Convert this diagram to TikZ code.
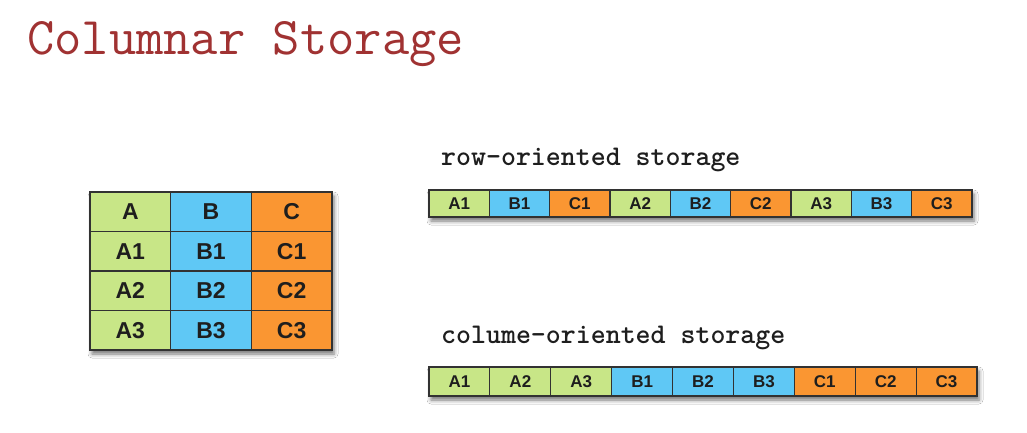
\documentclass[tikz,border=0pt]{standalone}
\usepackage{fontspec}
\setmainfont{Liberation Sans}
\usetikzlibrary{shadows.blur}
\definecolor{cgreen}{RGB}{200,230,135}
\definecolor{cblue}{RGB}{95,200,245}
\definecolor{corange}{RGB}{250,150,50}
\definecolor{cborder}{RGB}{50,50,50}
\definecolor{ctitle}{RGB}{160,50,50}
\definecolor{ctext}{RGB}{30,30,30}
\begin{document}
\begin{tikzpicture}[x=1pt,y=-1pt,
  tcell/.style={draw=cborder, line width=1.3pt, minimum width=80.6pt, minimum height=39.5pt, inner sep=0pt,
    font=\fontsize{23}{23}\selectfont\bfseries, text=ctext},
  rcell/.style={draw=cborder, line width=1.2pt, minimum width=60.33pt, minimum height=27pt, inner sep=0pt,
    font=\fontsize{17}{17}\selectfont\bfseries, text=ctext},
  ccell/.style={draw=cborder, line width=1.2pt, minimum width=60.9pt, minimum height=29pt, inner sep=0pt,
    font=\fontsize{17}{17}\selectfont\bfseries, text=ctext},
  shad/.style={fill=white, blur shadow={shadow xshift=2pt, shadow yshift=-4pt, shadow blur radius=4pt, shadow opacity=55}},
  label/.style={anchor=base west, inner sep=0pt, font=\ttfamily\fontsize{28.5}{28.5}\selectfont\bfseries, text=ctext}
]
\useasboundingbox (0,0) rectangle (1027,433);
\fill[white] (0,0) rectangle (1027,433);

% title
\node[anchor=base west, inner sep=0pt, font=\ttfamily\fontsize{53}{53}\selectfont, text=ctitle] (title) at (27,55) {Columnar Storage};

% table
\fill[shad] (90,192) rectangle (332,350);
\foreach \h/\c [count=\i] in {A/cgreen,B/cblue,C/corange}{
  \node[tcell, fill=\c] (h\h) at ({90+80.67*(\i-0.5)},{192+39.5*0.5}) {\h};
  \foreach \j in {1,2,3}{
    \node[tcell, fill=\c] (t\h\j) at ({90+80.67*(\i-0.5)},{192+39.5*(\j+0.5)}) {\h\j};
  }
}

% row-oriented
\node[label] (rowlab) at (441,165) {row-oriented storage};
\fill[shad] (429,190) rectangle (972,217);
\foreach \t/\c [count=\i] in {A1/cgreen,B1/cblue,C1/corange,A2/cgreen,B2/cblue,C2/corange,A3/cgreen,B3/cblue,C3/corange}{
  \node[rcell, fill=\c] (r\i) at ({429+60.33*(\i-0.5)},203.5) {\t};
}

% column-oriented
\node[label] (collab) at (441,343) {colume-oriented storage};
\fill[shad] (429,367) rectangle (977,396);
\foreach \t/\c [count=\i] in {A1/cgreen,A2/cgreen,A3/cgreen,B1/cblue,B2/cblue,B3/cblue,C1/corange,C2/corange,C3/corange}{
  \node[ccell, fill=\c] (c\i) at ({429+60.89*(\i-0.5)},381.5) {\t};
}
\end{tikzpicture}
\end{document}
